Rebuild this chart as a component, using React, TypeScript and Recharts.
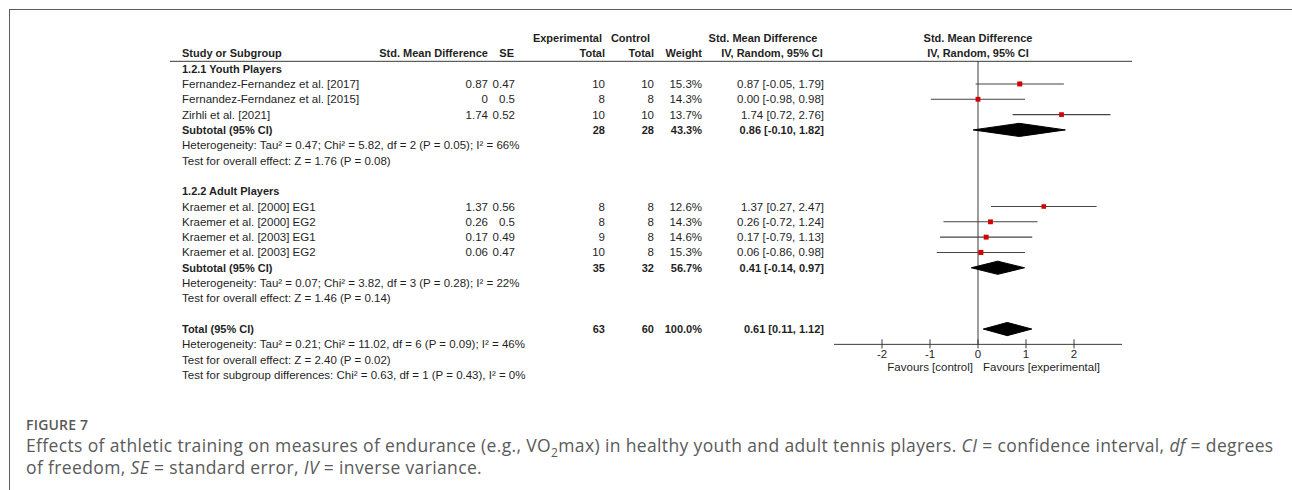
import React from "react";
import { ComposedChart, Scatter, XAxis, YAxis, ReferenceLine, ErrorBar } from "recharts";

// ---- study level data ----
const studies = [
  "Fernandez-Fernandez et al. [2017]",
  "Fernandez-Ferndanez et al. [2015]",
  "Zirhli et al. [2021]",
  "Kraemer et al. [2000] EG1",
  "Kraemer et al. [2000] EG2",
  "Kraemer et al. [2003] EG1",
  "Kraemer et al. [2003] EG2",
];
const studyGroup = [0, 0, 0, 1, 1, 1, 1];
const smd = [0.87, 0, 1.74, 1.37, 0.26, 0.17, 0.06];
const se = [0.47, 0.5, 0.52, 0.56, 0.5, 0.49, 0.47];
const expTotal = [10, 8, 10, 8, 8, 9, 10];
const ctrlTotal = [10, 8, 10, 8, 8, 8, 8];
const weight = [15.3, 14.3, 13.7, 12.6, 14.3, 14.6, 15.3];
const ciLow = [-0.05, -0.98, 0.72, 0.27, -0.72, -0.79, -0.86];
const ciHigh = [1.79, 0.98, 2.76, 2.47, 1.24, 1.13, 0.98];

// ---- subgroups ----
const groupNames = ["1.2.1 Youth Players", "1.2.2 Adult Players"];
const subEst = [0.86, 0.41];
const subLow = [-0.1, -0.14];
const subHigh = [1.82, 0.97];
const subExp = [28, 35];
const subCtrl = [28, 32];
const subWeight = [43.3, 56.7];
const subHet = [
  "Heterogeneity: Tau² = 0.47; Chi² = 5.82, df = 2 (P = 0.05); I² = 66%",
  "Heterogeneity: Tau² = 0.07; Chi² = 3.82, df = 3 (P = 0.28); I² = 22%",
];
const subTest = [
  "Test for overall effect: Z = 1.76 (P = 0.08)",
  "Test for overall effect: Z = 1.46 (P = 0.14)",
];

// ---- overall ----
const totalEst = [0.61];
const totalLow = [0.11];
const totalHigh = [1.12];
const totalExp = [63];
const totalCtrl = [60];
const totalWeight = [100.0];
const totalNotes = [
  "Heterogeneity: Tau² = 0.21; Chi² = 11.02, df = 6 (P = 0.09); I² = 46%",
  "Test for overall effect: Z = 2.40 (P = 0.02)",
  "Test for subgroup differences: Chi² = 0.63, df = 1 (P = 0.43), I² = 0%",
];

const axisTicks = [-2, -1, 0, 1, 2];
const favourLeft = "Favours [control]";
const favourRight = "Favours [experimental]";

const FONT = "'Liberation Sans', Arial, sans-serif";
const INK = "#1f1f1f";
const LINE = "#3a3a3a";
const DIAMOND_HALF = 0.43;

type Row = {
  kind: "head1" | "head2" | "group" | "study" | "sub" | "note" | "blank";
  label?: string;
  smd?: string;
  se?: string;
  exp?: string;
  ctrl?: string;
  w?: string;
  ci?: string;
};

const f2 = (v: number) => v.toFixed(2);
const ciText = (e: number, l: number, h: number) => `${f2(e)} [${f2(l)}, ${f2(h)}]`;

const rows: Row[] = [{ kind: "head1" }, { kind: "head2" }];
const studyRow: number[] = [];
const diamonds: { x: number; y: number }[][] = [];

const diamond = (e: number, l: number, h: number, r: number) => [
  { x: l, y: r },
  { x: e, y: r - DIAMOND_HALF },
  { x: h, y: r },
  { x: e, y: r + DIAMOND_HALF },
  { x: l, y: r },
];

groupNames.forEach((g, gi) => {
  rows.push({ kind: "group", label: g });
  studies.forEach((s, i) => {
    if (studyGroup[i] !== gi) return;
    studyRow[i] = rows.length;
    rows.push({
      kind: "study",
      label: s,
      smd: String(smd[i]),
      se: String(se[i]),
      exp: String(expTotal[i]),
      ctrl: String(ctrlTotal[i]),
      w: `${weight[i].toFixed(1)}%`,
      ci: ciText(smd[i], ciLow[i], ciHigh[i]),
    });
  });
  diamonds.push(diamond(subEst[gi], subLow[gi], subHigh[gi], rows.length));
  rows.push({
    kind: "sub",
    label: "Subtotal (95% CI)",
    exp: String(subExp[gi]),
    ctrl: String(subCtrl[gi]),
    w: `${subWeight[gi].toFixed(1)}%`,
    ci: ciText(subEst[gi], subLow[gi], subHigh[gi]),
  });
  rows.push({ kind: "note", label: subHet[gi] });
  rows.push({ kind: "note", label: subTest[gi] });
  rows.push({ kind: "blank" });
});
diamonds.push(diamond(totalEst[0], totalLow[0], totalHigh[0], rows.length));
rows.push({
  kind: "sub",
  label: "Total (95% CI)",
  exp: String(totalExp[0]),
  ctrl: String(totalCtrl[0]),
  w: `${totalWeight[0].toFixed(1)}%`,
  ci: ciText(totalEst[0], totalLow[0], totalHigh[0]),
});
const axisRow = rows.length;
totalNotes.forEach((n) => rows.push({ kind: "note", label: n }));

const textData = rows.map((r, i) => ({ ...r, x: 0, y: i }));
const pointData = studies.map((_, i) => ({
  x: smd[i],
  y: studyRow[i],
  err: [smd[i] - ciLow[i], ciHigh[i] - smd[i]],
  w: weight[i],
}));
const tickData = axisTicks.map((t) => ({ x: t, y: axisRow }));

// column anchors (px)
const C_STUDY = 182;
const C_SMD = 488;
const C_SE = 515;
const C_EXP = 605;
const C_CTRL = 654;
const C_W = 702;
const C_CI = 824;

const TextRow = (props: any) => {
  const { cx, cy, payload } = props;
  const p = payload as Row;
  const base = { fontFamily: FONT, fontSize: 11.5, fill: INK, dominantBaseline: "central" as const };
  const bold = { ...base, fontSize: 11, fontWeight: 700 };
  if (p.kind === "head1") {
    return (
      <g>
        <text {...bold} x={602} y={cy} textAnchor="end">Experimental</text>
        <text {...bold} x={650} y={cy} textAnchor="end">Control</text>
        <text {...bold} x={763} y={cy} textAnchor="middle">Std. Mean Difference</text>
        <text {...bold} x={cx} y={cy} textAnchor="middle">Std. Mean Difference</text>
      </g>
    );
  }
  if (p.kind === "head2") {
    return (
      <g>
        <text {...bold} x={C_STUDY} y={cy}>Study or Subgroup</text>
        <text {...bold} x={C_SMD} y={cy} textAnchor="end">Std. Mean Difference</text>
        <text {...bold} x={C_SE - 1} y={cy} textAnchor="end">SE</text>
        <text {...bold} x={C_EXP} y={cy} textAnchor="end">Total</text>
        <text {...bold} x={C_CTRL} y={cy} textAnchor="end">Total</text>
        <text {...bold} x={C_W} y={cy} textAnchor="end">Weight</text>
        <text {...bold} x={772} y={cy} textAnchor="middle">IV, Random, 95% CI</text>
        <text {...bold} x={cx} y={cy} textAnchor="middle">IV, Random, 95% CI</text>
        <line x1={170} x2={1132} y1={cy + 8} y2={cy + 8} stroke={LINE} strokeWidth={1} />
      </g>
    );
  }
  if (p.kind === "blank") return <g />;
  if (p.kind === "group") {
    return <text {...bold} x={C_STUDY} y={cy}>{p.label}</text>;
  }
  if (p.kind === "note") {
    return <text {...base} x={C_STUDY} y={cy}>{p.label}</text>;
  }
  const st = p.kind === "sub" ? bold : base;
  return (
    <g>
      <text {...st} x={C_STUDY} y={cy}>{p.label}</text>
      {p.smd !== undefined && <text {...st} x={C_SMD} y={cy} textAnchor="end">{p.smd}</text>}
      {p.se !== undefined && <text {...st} x={C_SE} y={cy} textAnchor="end">{p.se}</text>}
      <text {...st} x={C_EXP} y={cy} textAnchor="end">{p.exp}</text>
      <text {...st} x={C_CTRL} y={cy} textAnchor="end">{p.ctrl}</text>
      <text {...st} x={C_W} y={cy} textAnchor="end">{p.w}</text>
      <text {...st} x={C_CI} y={cy} textAnchor="end">{p.ci}</text>
    </g>
  );
};

const Square = (props: any) => {
  const { cx, cy, payload } = props;
  const s = 5 * Math.sqrt(payload.w / 15.3);
  return <rect x={cx - s / 2} y={cy - s / 2} width={s} height={s} fill="#d40000" />;
};

const Tick = (props: any) => {
  const { cx, cy, payload } = props;
  return (
    <g>
      <line x1={cx} x2={cx} y1={cy - 5} y2={cy + 4} stroke={LINE} strokeWidth={1} />
      <text x={cx} y={cy + 10} textAnchor="middle" dominantBaseline="central" fontFamily={FONT} fontSize={11.5} fill={INK}>
        {payload.x}
      </text>
      {payload.x === 0 && (
        <g fontFamily={FONT} fontSize={11.5} fill={INK}>
          <text x={cx - 5} y={cy + 23} textAnchor="end" dominantBaseline="central">{favourLeft}</text>
          <text x={cx + 5} y={cy + 23} textAnchor="start" dominantBaseline="central">{favourRight}</text>
        </g>
      )}
    </g>
  );
};

const Empty = () => <g />;

export default function App() {
  return (
    <div style={{ position: "relative", width: 1292, height: 490, background: "#fff", overflow: "hidden" }}>
      <style>{`body{margin:0}`}</style>
      <div
        style={{
          position: "absolute",
          left: 9,
          top: 9,
          width: 1290,
          height: 490,
          borderTop: "1px solid #5c5c5c",
          borderLeft: "1px solid #5c5c5c",
        }}
      />
      <div style={{ position: "absolute", left: 0, top: 0 }}>
        <ComposedChart width={1292} height={392} margin={{ top: 38, right: 170, bottom: 17, left: 834 }}>
          <XAxis type="number" dataKey="x" domain={[-3, 3]} hide />
          <YAxis type="number" dataKey="y" domain={[0, rows.length - 1]} reversed hide />
          <ReferenceLine y={axisRow} stroke={LINE} strokeWidth={1} />
          <ReferenceLine
            segment={[
              { x: 0, y: 1.5 },
              { x: 0, y: axisRow },
            ]}
            stroke={LINE}
            strokeWidth={1}
          />
          <Scatter data={textData} dataKey="y" shape={TextRow} isAnimationActive={false} />
          {diamonds.map((d, i) => (
            <Scatter
              key={i}
              data={d}
              dataKey="y"
              shape={Empty}
              line={{ fill: "#000", stroke: "#000", strokeWidth: 1 }}
              isAnimationActive={false}
            />
          ))}
          <Scatter data={pointData} dataKey="y" shape={Square} isAnimationActive={false}>
            <ErrorBar dataKey="err" direction="x" width={0} stroke="#454545" strokeWidth={1.1} />
          </Scatter>
          <Scatter data={tickData} dataKey="y" shape={Tick} isAnimationActive={false} />
        </ComposedChart>
      </div>
      <div
        style={{
          position: "absolute",
          left: 26,
          top: 417,
          fontFamily: "'Open Sans', sans-serif",
          fontSize: 14,
          lineHeight: "16px",
          fontWeight: 600,
          color: "#595959",
          letterSpacing: 0.2,
        }}
      >
        FIGURE 7
      </div>
      <div
        style={{
          position: "absolute",
          left: 26,
          top: 434,
          fontFamily: "'Open Sans', sans-serif",
          fontSize: 17.5,
          lineHeight: "22px",
          color: "#5a5a5a",
          letterSpacing: 0.36,
          whiteSpace: "nowrap",
        }}
      >
        Effects of athletic training on measures of endurance (e.g., VO<sub style={{ fontSize: 12, lineHeight: 0 }}>2</sub>max) in
        healthy youth and adult tennis players. <i>CI</i> = confidence interval, <i>df</i> = degrees
        <br />
        of freedom, <i>SE</i> = standard error, <i>IV</i> = inverse variance.
      </div>
    </div>
  );
}
